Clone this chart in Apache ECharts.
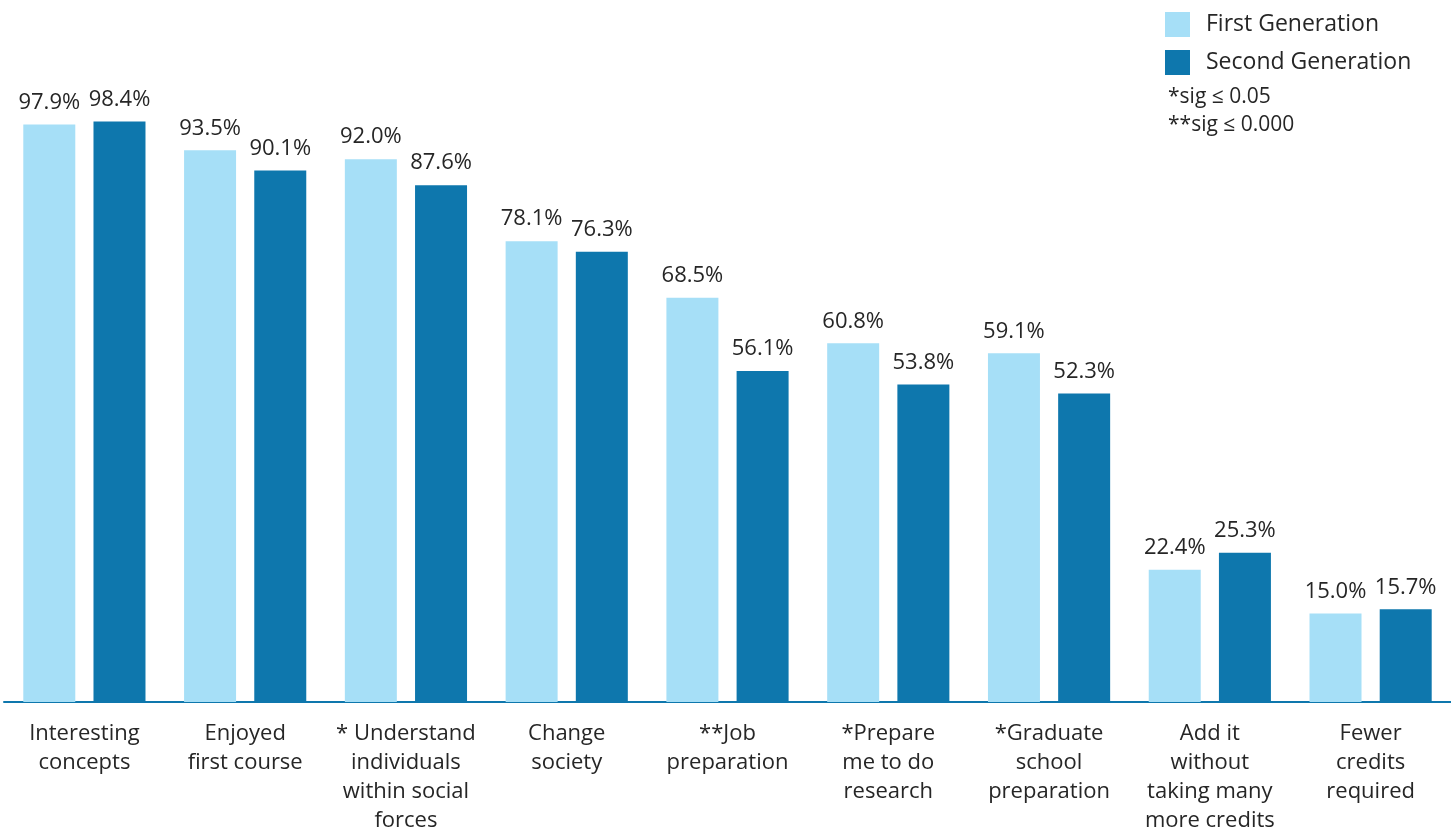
<!DOCTYPE html>
<html><head><meta charset="utf-8">
<script src="https://cdn.jsdelivr.net/npm/echarts@6/dist/echarts.min.js"></script>
<style>html,body{margin:0;padding:0;background:#fff}#c{width:1451px;height:831px}</style>
</head><body><div id="c"></div>
<script>
const categories = ["Interesting\nconcepts","Enjoyed\nfirst course","* Understand\nindividuals\nwithin social\nforces","Change\nsociety","**Job\npreparation","*Prepare\nme to do\nresearch","*Graduate\nschool\npreparation","Add it\nwithout\ntaking many\nmore credits","Fewer\ncredits\nrequired"];
const firstGen = [97.9, 93.5, 92.0, 78.1, 68.5, 60.8, 59.1, 22.4, 15.0];
const secondGen = [98.4, 90.1, 87.6, 76.3, 56.1, 53.8, 52.3, 25.3, 15.7];
const sigNotes = ["*sig \u2264 0.05", "**sig \u2264 0.000"];

const FONT = "'Open Sans', 'Noto Sans', sans-serif";
const chart = echarts.init(document.getElementById('c'));
const label = {show:true, position:'top', distance:11, formatter: p => p.value.toFixed(1) + '%', color:'#262626', fontSize:22, fontFamily:FONT};
chart.setOption({
  animation:false,
  textStyle:{fontFamily:FONT},
  grid:{left:4, right:0, top:112, bottom:129, containLabel:false, outerBoundsMode:'none'},
  legend:{orient:'vertical', left:1160, top:7, itemWidth:25, itemHeight:25, itemGap:13, icon:'rect',
    textStyle:{fontSize:23, color:'#262626', padding:[0,0,0,11], fontFamily:FONT},
    data:['First Generation','Second Generation']},
  graphic:[
    {type:'text', left:1168, top:87, style:{text:sigNotes[0], fontSize:21, fill:'#262626', fontFamily:FONT}},
    {type:'text', left:1168, top:115, style:{text:sigNotes[1], fontSize:21, fill:'#262626', fontFamily:FONT}}
  ],
  xAxis:{type:'category', data:categories,
    axisLine:{lineStyle:{color:'#0e77ad', width:2}}, axisTick:{show:false},
    axisLabel:{interval:0, margin:17, fontSize:22, lineHeight:29, color:'#262626', fontFamily:FONT}},
  yAxis:{type:'value', min:0, max:100, show:false, splitLine:{show:false}},
  series:[
    {name:'First Generation', type:'bar', data:firstGen, itemStyle:{color:'#a6dff7'}, barGap:'35%', barCategoryGap:'24%', label:label},
    {name:'Second Generation', type:'bar', data:secondGen, itemStyle:{color:'#0e77ad'}, label:label}
  ]
});
</script></body></html>
